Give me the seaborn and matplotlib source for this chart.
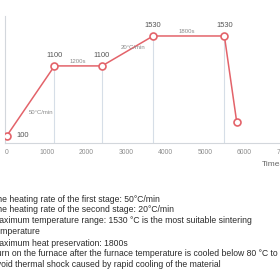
import matplotlib
matplotlib.use("Agg")
import matplotlib.pyplot as plt
import seaborn as sns
import pandas as pd

# sintering profile
time_s = [0, 1200, 2400, 3690, 5490, 5800]
temp_c = [100, 1100, 1100, 1530, 1530, 300]
value_labels = ["100", "1100", "1100", "1530", "1530", ""]
x_ticks = [0, 1000, 2000, 3000, 4000, 5000, 6000, 7000]
segment_notes = ["50°C/min", "1200s", "20°C/min", "1800s"]
notes = [
    "The heating rate of the first stage: 50°C/min",
    "The heating rate of the second stage: 20°C/min",
    "Maximum temperature range: 1530 °C is the most suitable sintering",
    "Temperature",
    "Maximum heat preservation: 1800s",
    "Turn on the furnace after the furnace temperature is cooled below 80 °C to",
    "avoid thermal shock caused by rapid cooling of the material",
]

sns.set_theme(style="white")
plt.rcParams['font.family'] = ['Liberation Sans', 'DejaVu Sans']

W = H = 280
fig = plt.figure(figsize=(2.8, 2.8), dpi=100)
ax = fig.add_axes([5 / W, (H - 142.5) / H, 287.1 / W, 126.5 / H])

red = "#e3636a"
df = pd.DataFrame({"time": time_s, "temp": temp_c})

# drop lines from the inner points
ax.vlines(time_s[1:5], 0, temp_c[1:5], color="#d6dee7", lw=0.8, zorder=1)

sns.lineplot(data=df, x="time", y="temp", ax=ax, color=red, lw=1.1,
             marker="o", markersize=5, markerfacecolor="white",
             markeredgecolor=red, markeredgewidth=1.2, zorder=3)

ax.set_xlim(-50, 7200)
ax.set_ylim(0, 1817)
ax.set_xticks(x_ticks)
ax.set_xticklabels([str(t) for t in x_ticks])
ax.set_yticks([])
ax.tick_params(axis="x", length=0, pad=5, labelsize=4.9, labelcolor="#8c8c8c")
ax.set_xlabel("")
ax.set_ylabel("")
for side in ["top", "right"]:
    ax.spines[side].set_visible(False)
for side in ["left", "bottom"]:
    ax.spines[side].set_color("#d3d7dc")
    ax.spines[side].set_linewidth(0.8)

# value labels
ax.annotate(value_labels[0], (time_s[0], temp_c[0]), xytext=(7, 0),
            textcoords="offset points", ha="left", va="center",
            fontsize=5.4, color="#555555")
for x, y, lab in zip(time_s[1:5], temp_c[1:5], value_labels[1:5]):
    ax.annotate(lab, (x, y), xytext=(0, 7.3), textcoords="offset points",
                ha="center", va="center", fontsize=5.4, color="#555555")

# segment notes
offsets = [(7.7, -8.8), (0, 2.9), (4, 2.2), (-1.6, 2.9)]
for i, (note, off) in enumerate(zip(segment_notes, offsets)):
    mx = (time_s[i] + time_s[i + 1]) / 2
    my = (temp_c[i] + temp_c[i + 1]) / 2
    ax.annotate(note, (mx, my), xytext=off, textcoords="offset points",
                ha="center", va="center", fontsize=4.3, color="#8a8a8a")

fig.text(262 / W, 1 - 164 / H, "Time(s)", ha="left", va="center",
         fontsize=6.0, color="#666666")

# explanation below the chart
for i, line in enumerate(notes):
    y = 199 + i * 10.8 + (1 if i >= 4 else 0)
    fig.text(-8 / W, 1 - y / H, line, ha="left", va="center",
             fontsize=6.2, color="#2b2b2b")

fig.savefig("out.png", dpi=100)
